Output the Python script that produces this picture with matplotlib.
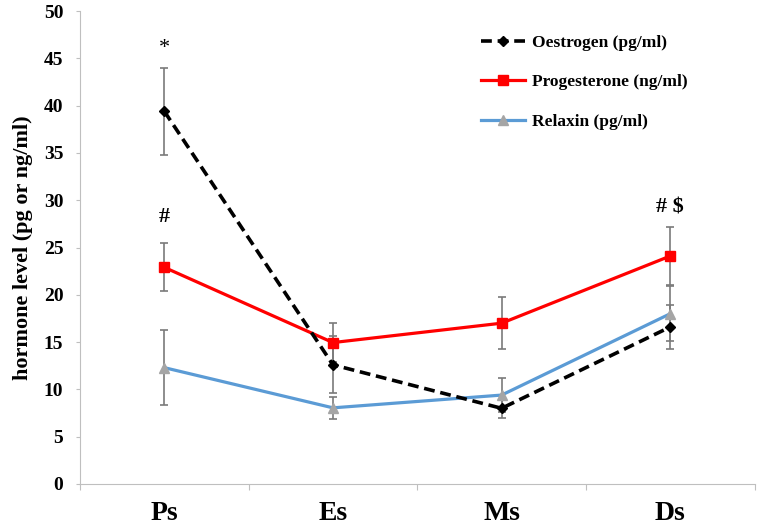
import numpy as np
import matplotlib
matplotlib.use("Agg")
import matplotlib.pyplot as plt

plt.rcParams['font.family'] = ['Liberation Serif', 'DejaVu Serif']
plt.rcParams['font.weight'] = 'bold'

# data
stages = ['Ps', 'Es', 'Ms', 'Ds']
oestrogen = [39.4, 12.6, 8.0, 16.6]
oestrogen_err = [4.6, 3.0, 1.0, 2.3]
progesterone = [22.9, 14.95, 17.0, 24.1]
progesterone_err = [2.55, 2.05, 2.75, 3.05]
relaxin = [12.3, 8.05, 9.4, 18.0]
relaxin_err = [4.0, 1.15, 1.8, 2.9]

# significance marks: (stage index, y, text)
marks = [(0, 46.0, '*'), (0, 28.2, '#'), (3, 29.2, '# $')]

x = np.arange(len(stages))
err_kw = dict(fmt='none', ecolor='#7a7a7a', elinewidth=1.2, capsize=2.6, capthick=1.2, zorder=2)

fig = plt.figure(figsize=(7.58, 5.27), dpi=100)
ax = fig.add_axes([0.1055, 0.0816, 0.890, 0.8975])

ax.errorbar(x, oestrogen, yerr=oestrogen_err, **err_kw)
ax.errorbar(x, progesterone, yerr=progesterone_err, **err_kw)
ax.errorbar(x, relaxin, yerr=relaxin_err, **err_kw)

ax.plot(x, oestrogen, color='black', ls=(0, (3, 1.6)), lw=2.6, marker='D', ms=5.5,
        label='Oestrogen (pg/ml)', zorder=4)
ax.plot(x, progesterone, color='#ff0000', lw=2.3, marker='s', ms=7.5,
        label='Progesterone (ng/ml)', zorder=3)
ax.plot(x, relaxin, color='#5b9bd5', lw=2.3, marker='^', ms=7.5, mfc='#a5a5a5', mec='#a5a5a5',
        label='Relaxin (pg/ml)', zorder=3)

for i, y, t in marks:
    ax.text(x[i], y, t, ha='center', va='center', fontsize=16, fontweight='normal' if t == '*' else 'bold')

ax.set_xlim(-0.5, 3.5)
ax.set_ylim(0, 50)
ax.set_yticks(np.arange(0, 51, 5))
ax.set_xticks(np.arange(-0.5, 4.0, 1.0))
ax.set_xticklabels([])
ax.set_xticks(x, minor=True)
ax.set_xticklabels(stages, minor=True, fontsize=20, fontweight='bold')
ax.tick_params(axis='x', which='minor', length=0, pad=12)
ax.tick_params(axis='x', which='major', length=4.5, color='#bfbfbf', direction='out')
ax.tick_params(axis='y', length=3, color='#bfbfbf', labelsize=14, pad=9)
for lab in ax.get_yticklabels():
    lab.set_fontweight('bold')

for s in ['top', 'right']:
    ax.spines[s].set_visible(False)
for s in ['left', 'bottom']:
    ax.spines[s].set_color('#bfbfbf')

ax.set_ylabel('hormone level (pg or ng/ml)', fontsize=16, fontweight='bold', labelpad=8)

leg = ax.legend(loc='upper left', bbox_to_anchor=(0.572, 0.983), frameon=False, fontsize=12.5,
                handlelength=2.5, labelspacing=1.35, handletextpad=0.4)
for t in leg.get_texts():
    t.set_fontweight('bold')

fig.savefig('out.png', dpi=100)
